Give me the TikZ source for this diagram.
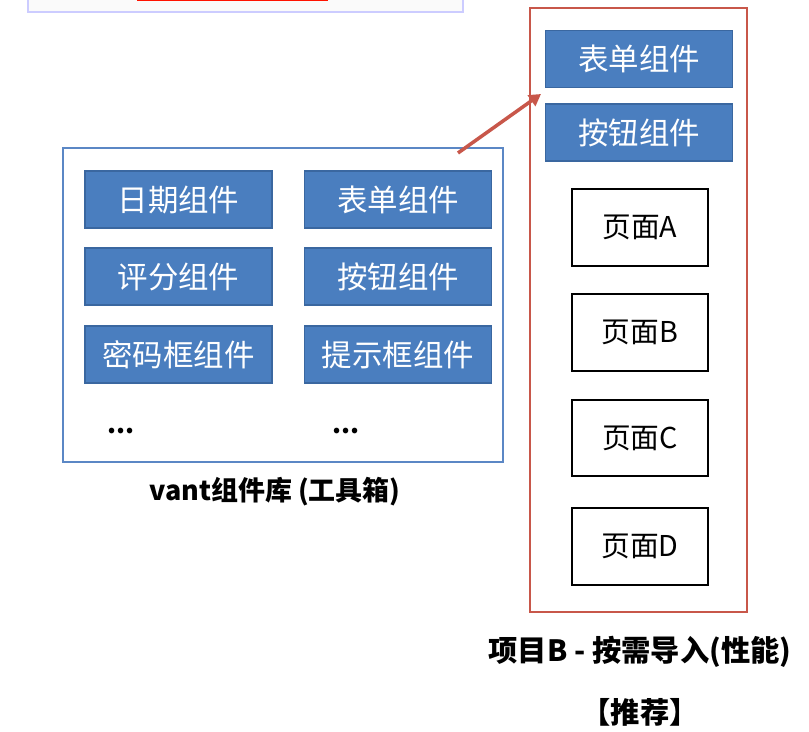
\documentclass[tikz,border=0pt]{standalone}
\usepackage{fontspec}
\setmainfont{Noto Sans CJK SC}
\usetikzlibrary{positioning,arrows.meta}
\definecolor{compblue}{HTML}{4A7EBF}
\definecolor{compedge}{HTML}{3A67A0}
\definecolor{libedge}{HTML}{5B87C5}
\definecolor{projred}{HTML}{C8574A}
\tikzset{
  comp/.style={draw=compedge,line width=1.2pt,fill=compblue,text=white,
    minimum width=5.6cm,minimum height=1.71cm,inner sep=0pt,
    font=\fontsize{26}{29}\selectfont},
  page/.style={draw=black,line width=1.6pt,fill=white,
    minimum width=4.1cm,minimum height=2.3cm,inner sep=0pt,
    font=\fontsize{24.5}{28}\selectfont},
  caption/.style={font=\fontsize{25}{28}\selectfont\bfseries}
}

\begin{document}
\begin{tikzpicture}[x=0.03cm,y=-0.03cm]
\clip (0,0) rectangle (809,732);
\fill[white] (0,0) rectangle (809,732);
% cut-off window at the top
\draw[draw=blue!20,line width=1.5pt,fill=gray!4] (28,-20) rectangle (463,12);
\fill[red!85!orange] (137,-20) rectangle (328,1);
% component library
\node[draw=libedge,line width=1.3pt,minimum width=13.2cm,minimum height=9.42cm] (lib) at (283,305) {};
\node[comp] (date) at (178.5,199.5) {日期组件};
\node[comp] (rate) at (178.5,276.5) {评分组件};
\node[comp] (pwd) at (178.5,354.5) {密码框组件};
\node[comp] (form) at (398,199.5) {表单组件};
\node[comp] (btn) at (398,276.5) {按钮组件};
\node[comp] (tip) at (398,354.5) {提示框组件};
\node[font=\fontsize{22}{24}\selectfont\bfseries] (moreL) at (121,431) {...};
\node[font=\fontsize{22}{24}\selectfont\bfseries] (moreR) at (346,431) {...};
\node[caption,font=\fontsize{23}{26}\selectfont\bfseries] (libcap) at (275,492) {vant组件库 (工具箱)};
% project B
\node[draw=projred,line width=1.4pt,minimum width=6.51cm,minimum height=18.12cm] (proj) at (638.5,310) {};
\node[comp] (pform) at (639,59) {表单组件};
\node[comp] (pbtn) at (639,132.5) {按钮组件};
\foreach \n/\y/\t in {pa/227.5/A,pb/332.5/B,pc/438/C,pd/546.5/D}
  \node[page] (\n) at (640,\y) {页面\t};
\node[caption] (projcap) at (640,652) {项目B - 按需导入(性能)};
\node[caption] (rec) at (640,712) {【推荐】};
\coordinate (from) at (458,153);
\coordinate (to) at (541,94);
\draw[projred,line width=3pt,-{Triangle[length=10pt,width=11pt]}] (from) -- (to);
\end{tikzpicture}
\end{document}
